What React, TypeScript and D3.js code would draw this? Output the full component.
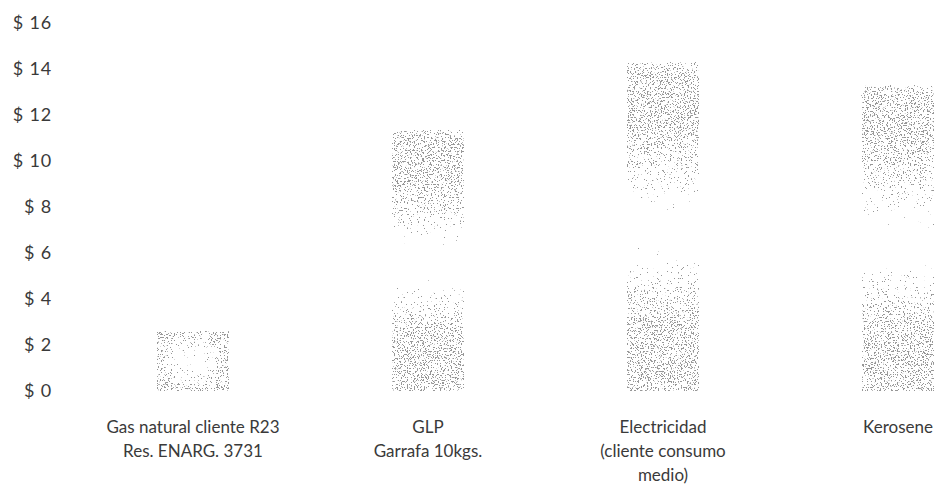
import { useEffect, useRef } from "react"
import * as d3 from "d3"

const categories = ["gas", "glp", "elec", "kero"]
const categoryLabels = [
  ["Gas natural cliente R23", "Res. ENARG. 3731"],
  ["GLP", "Garrafa 10kgs."],
  ["Electricidad", "(cliente consumo", "medio)"],
  ["Kerosene"],
]
const values = [2.6, 11.35, 14.3, 13.3]
const yTicks = [0, 2, 4, 6, 8, 10, 12, 14, 16]

const W = 943
const H = 495
const FONT = "Lato, 'Open Sans', sans-serif"

export default function App() {
  const svgRef = useRef<SVGSVGElement>(null)

  useEffect(() => {
    if (!svgRef.current) return
    const svg = d3.select(svgRef.current)
    svg.selectAll("*").remove()

    const x = d3.scaleBand<string>().domain(categories).range([75.5, 1015.5]).paddingInner(0.69).paddingOuter(0.345)
    const y = d3.scaleLinear().domain([0, 16]).range([391, 23])

    const defs = svg.append("defs")

    // alpha fade for the tall bars: dense at top and bottom, empty through the middle
    const grad = defs
      .append("linearGradient")
      .attr("id", "bar-fade")
      .attr("x1", "0%")
      .attr("y1", "0%")
      .attr("x2", "0%")
      .attr("y2", "100%")
    const stops: [number, number][] = [
      [0, 0.38],
      [0.04, 0.42],
      [0.2, 0.42],
      [0.3, 0.36],
      [0.38, 0.3],
      [0.44, 0.2],
      [0.5, 0.1],
      [0.58, 0.2],
      [0.64, 0.3],
      [0.72, 0.37],
      [0.8, 0.42],
      [1, 0.42],
    ]
    stops.forEach(([o, a]) =>
      grad.append("stop").attr("offset", o).attr("stop-color", "#000").attr("stop-opacity", a)
    )

    // short bar: hollow centre, dense rim
    const rad = defs.append("radialGradient").attr("id", "bar-rim").attr("cx", "50%").attr("cy", "50%").attr("r", "70%")
    const rstops: [number, number][] = [
      [0, 0.2],
      [0.4, 0.3],
      [0.65, 0.4],
      [1, 0.44],
    ]
    rstops.forEach(([o, a]) =>
      rad.append("stop").attr("offset", o).attr("stop-color", "#000").attr("stop-opacity", a)
    )

    // stipple the fade with noise, like the scanned print
    const f = defs
      .append("filter")
      .attr("id", "stipple")
      .attr("x", 0)
      .attr("y", 0)
      .attr("width", 1)
      .attr("height", 1)
      .attr("color-interpolation-filters", "sRGB")
    f.append("feTurbulence")
      .attr("type", "fractalNoise")
      .attr("baseFrequency", 0.7)
      .attr("numOctaves", 3)
      .attr("seed", 7)
      .attr("result", "noise")
    f.append("feColorMatrix")
      .attr("in", "noise")
      .attr("type", "matrix")
      .attr("values", "0 0 0 0 0  0 0 0 0 0  0 0 0 0 0  1 0 0 0 0")
      .attr("result", "na")
    f.append("feComposite")
      .attr("in", "SourceGraphic")
      .attr("in2", "na")
      .attr("operator", "arithmetic")
      .attr("k1", 0)
      .attr("k2", 1)
      .attr("k3", 1)
      .attr("k4", -1)
      .attr("result", "sum")
    const ct = f.append("feComponentTransfer").attr("in", "sum").attr("result", "dots")
    ct.append("feFuncA").attr("type", "linear").attr("slope", 30).attr("intercept", 0)
    f.append("feFlood").attr("flood-color", "#979797").attr("result", "ink")
    f.append("feComposite").attr("in", "ink").attr("in2", "dots").attr("operator", "in")

    // y axis labels
    svg
      .append("g")
      .selectAll("text")
      .data(yTicks)
      .enter()
      .append("text")
      .attr("x", 52)
      .attr("y", (d) => y(d))
      .attr("dy", "0.35em")
      .attr("text-anchor", "end")
      .attr("font-family", FONT)
      .attr("font-size", 18)
      .attr("letter-spacing", 0.8)
      .attr("fill", "#3a3a3a")
      .text((d) => `$ ${d}`)

    // bars
    svg
      .append("g")
      .selectAll("rect")
      .data(values)
      .enter()
      .append("rect")
      .attr("x", (_, i) => x(categories[i]) || 0)
      .attr("y", (d) => y(d))
      .attr("width", x.bandwidth())
      .attr("height", (d) => y(0) - y(d))
      .attr("fill", (d) => (y(0) - y(d) < 100 ? "url(#bar-rim)" : "url(#bar-fade)"))
      .attr("filter", "url(#stipple)")

    // category labels
    const lab = svg
      .append("g")
      .selectAll("text")
      .data(categoryLabels)
      .enter()
      .append("text")
      .attr("x", (_, i) => (x(categories[i]) || 0) + x.bandwidth() / 2)
      .attr("y", 427)
      .attr("text-anchor", "middle")
      .attr("font-family", FONT)
      .attr("font-size", 17)
      .attr("fill", "#3a3a3a")

    lab
      .selectAll("tspan")
      .data((d) => d)
      .enter()
      .append("tspan")
      .attr("x", function () {
        return (this.parentNode as SVGTextElement).getAttribute("x")
      })
      .attr("dy", (_, i) => (i === 0 ? "0.35em" : "24"))
      .text((d) => d)
  }, [])

  return (
    <svg
      ref={svgRef}
      width={W}
      height={H}
      style={{ position: "absolute", left: 0, top: 0, display: "block", background: "#fff" }}
    />
  )
}
